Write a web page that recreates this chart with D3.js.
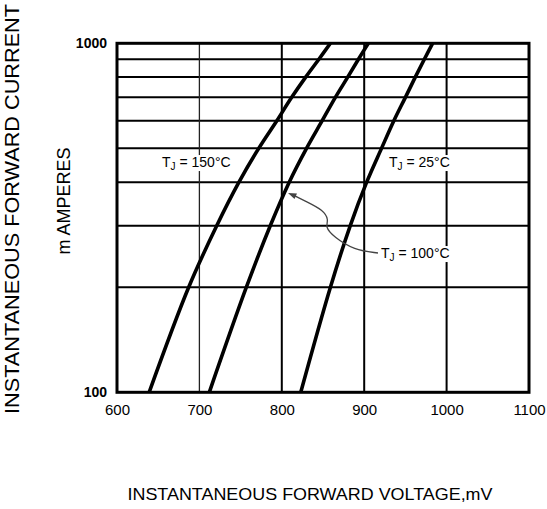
<!DOCTYPE html>
<html>
<head>
<meta charset="utf-8">
<script src="https://cdn.jsdelivr.net/npm/d3@7"></script>
<style>
  body { margin: 0; background: #fff; }
  svg { display: block; font-family: "Liberation Sans", Arial, sans-serif; }
</style>
</head>
<body>
<svg id="chart" width="547" height="509"></svg>
<script>
// forward characteristic (mV vs mA)
const currents = [100, 200, 300, 400, 500, 600, 700, 800, 900, 1000];
const v150 = [639, 687, 721, 748, 772, 794, 812, 829, 845, 859];
const v100 = [712, 757, 786, 809, 830, 849, 865, 880, 893, 905];
const v25 = [823, 859, 883, 903, 921, 936, 950, 962, 973, 983];

const xTicks = [600, 700, 800, 900, 1000, 1100];
const yTicks = [100, 1000];
const yGrid = [200, 300, 400, 500, 600, 700, 800, 900];
const xGrid = [700, 800, 900, 1000];

const svg = d3.select("#chart");

const x = d3.scaleLinear().domain([600, 1100]).range([117, 529]);
const y = d3.scaleLog().domain([100, 1000]).range([392.3, 43.3]);

// grid
const grid = svg.append("g");
grid.selectAll(".hgrid")
  .data(yGrid)
  .join("line")
  .attr("class", "hgrid")
  .attr("x1", x(600)).attr("x2", x(1100))
  .attr("y1", d => y(d)).attr("y2", d => y(d))
  .attr("stroke", "#000")
  .attr("stroke-width", 2);

grid.selectAll(".vgrid")
  .data(xGrid)
  .join("line")
  .attr("class", "vgrid")
  .attr("x1", d => x(d)).attr("x2", d => x(d))
  .attr("y1", y(1000)).attr("y2", y(100))
  .attr("stroke", d => (d === 700 ? "#222" : "#000"))
  .attr("stroke-width", d => (d === 700 ? 1.3 : 2));

// curves
const line = d3.line()
  .x(d => x(d[0]))
  .y(d => y(d[1]))
  .curve(d3.curveCatmullRom.alpha(0.5));

const series = [v150, v100, v25];
svg.append("g")
  .selectAll("path")
  .data(series)
  .join("path")
  .attr("d", vs => line(vs.map((v, i) => [v, currents[i]])))
  .attr("fill", "none")
  .attr("stroke", "#000")
  .attr("stroke-width", 3.6);

// frame
svg.append("rect")
  .attr("x", x(600)).attr("y", y(1000))
  .attr("width", x(1100) - x(600))
  .attr("height", y(100) - y(1000))
  .attr("fill", "none")
  .attr("stroke", "#000")
  .attr("stroke-width", 3);

// axes
const xAxis = d3.axisBottom(x).tickValues(xTicks).tickFormat(d3.format("d")).tickSize(0).tickPadding(12);
const gx = svg.append("g")
  .attr("transform", `translate(0,${y(100)})`)
  .call(xAxis);
gx.select(".domain").remove();
gx.selectAll("text")
  .attr("font-size", 15)
  .attr("font-family", "Liberation Sans, Arial, sans-serif")
  .attr("fill", "#000");

const yAxis = d3.axisLeft(y).tickValues(yTicks).tickFormat(d3.format("d")).tickSize(0).tickPadding(10);
const gy = svg.append("g")
  .attr("transform", `translate(${x(600)},0)`)
  .call(yAxis);
gy.select(".domain").remove();
gy.selectAll("text")
  .attr("font-size", 14)
  .attr("font-weight", "bold")
  .attr("font-family", "Liberation Sans, Arial, sans-serif")
  .attr("fill", "#000");

// temperature labels
const labels = [
  { t: "150", x: 162, y: 162 },
  { t: "25", x: 389, y: 162 },
  { t: "100", x: 381, y: 253 }
];

const lab = svg.append("g").selectAll("g")
  .data(labels)
  .join("g")
  .attr("transform", d => `translate(${d.x},${d.y})`);

lab.each(function(d) {
  const g = d3.select(this);
  const txt = g.append("text")
    .attr("font-size", 14)
    .attr("dy", "0.36em")
    .attr("fill", "#000");
  txt.append("tspan").text("T");
  txt.append("tspan").attr("font-size", 10).attr("dy", 3).text("J");
  txt.append("tspan").attr("dy", -3).text(` = ${d.t}°C`);
  const bb = txt.node().getBBox();
  g.insert("rect", "text")
    .attr("x", bb.x - 2).attr("y", bb.y + 1)
    .attr("width", bb.width + 4).attr("height", bb.height - 2)
    .attr("fill", "#fff");
});

// leader from the 100°C label to its curve
const leader = [[378, 253], [354, 250], [334, 237], [325, 227], [329, 220], [323, 210], [307, 202], [293, 195]];
svg.append("path")
  .attr("d", d3.line().curve(d3.curveBasis)(leader))
  .attr("fill", "none")
  .attr("stroke", "#444")
  .attr("stroke-width", 1.3);
svg.append("path")
  .attr("d", "M288,193 L297,193.5 L294.5,199 Z")
  .attr("fill", "#444");

// axis titles
svg.append("text")
  .attr("transform", "translate(19,209) rotate(-90)")
  .attr("text-anchor", "middle")
  .attr("font-size", 21)
  .attr("textLength", 410)
  .attr("lengthAdjust", "spacingAndGlyphs")
  .attr("fill", "#000")
  .text("INSTANTANEOUS FORWARD CURRENT");

svg.append("text")
  .attr("transform", "translate(70,201) rotate(-90)")
  .attr("text-anchor", "middle")
  .attr("font-size", 18)
  .attr("fill", "#000")
  .text("m AMPERES");

svg.append("text")
  .attr("x", 310).attr("y", 500)
  .attr("text-anchor", "middle")
  .attr("font-size", 17)
  .attr("textLength", 365)
  .attr("lengthAdjust", "spacingAndGlyphs")
  .attr("fill", "#000")
  .text("INSTANTANEOUS FORWARD VOLTAGE,mV");
</script>
</body>
</html>
